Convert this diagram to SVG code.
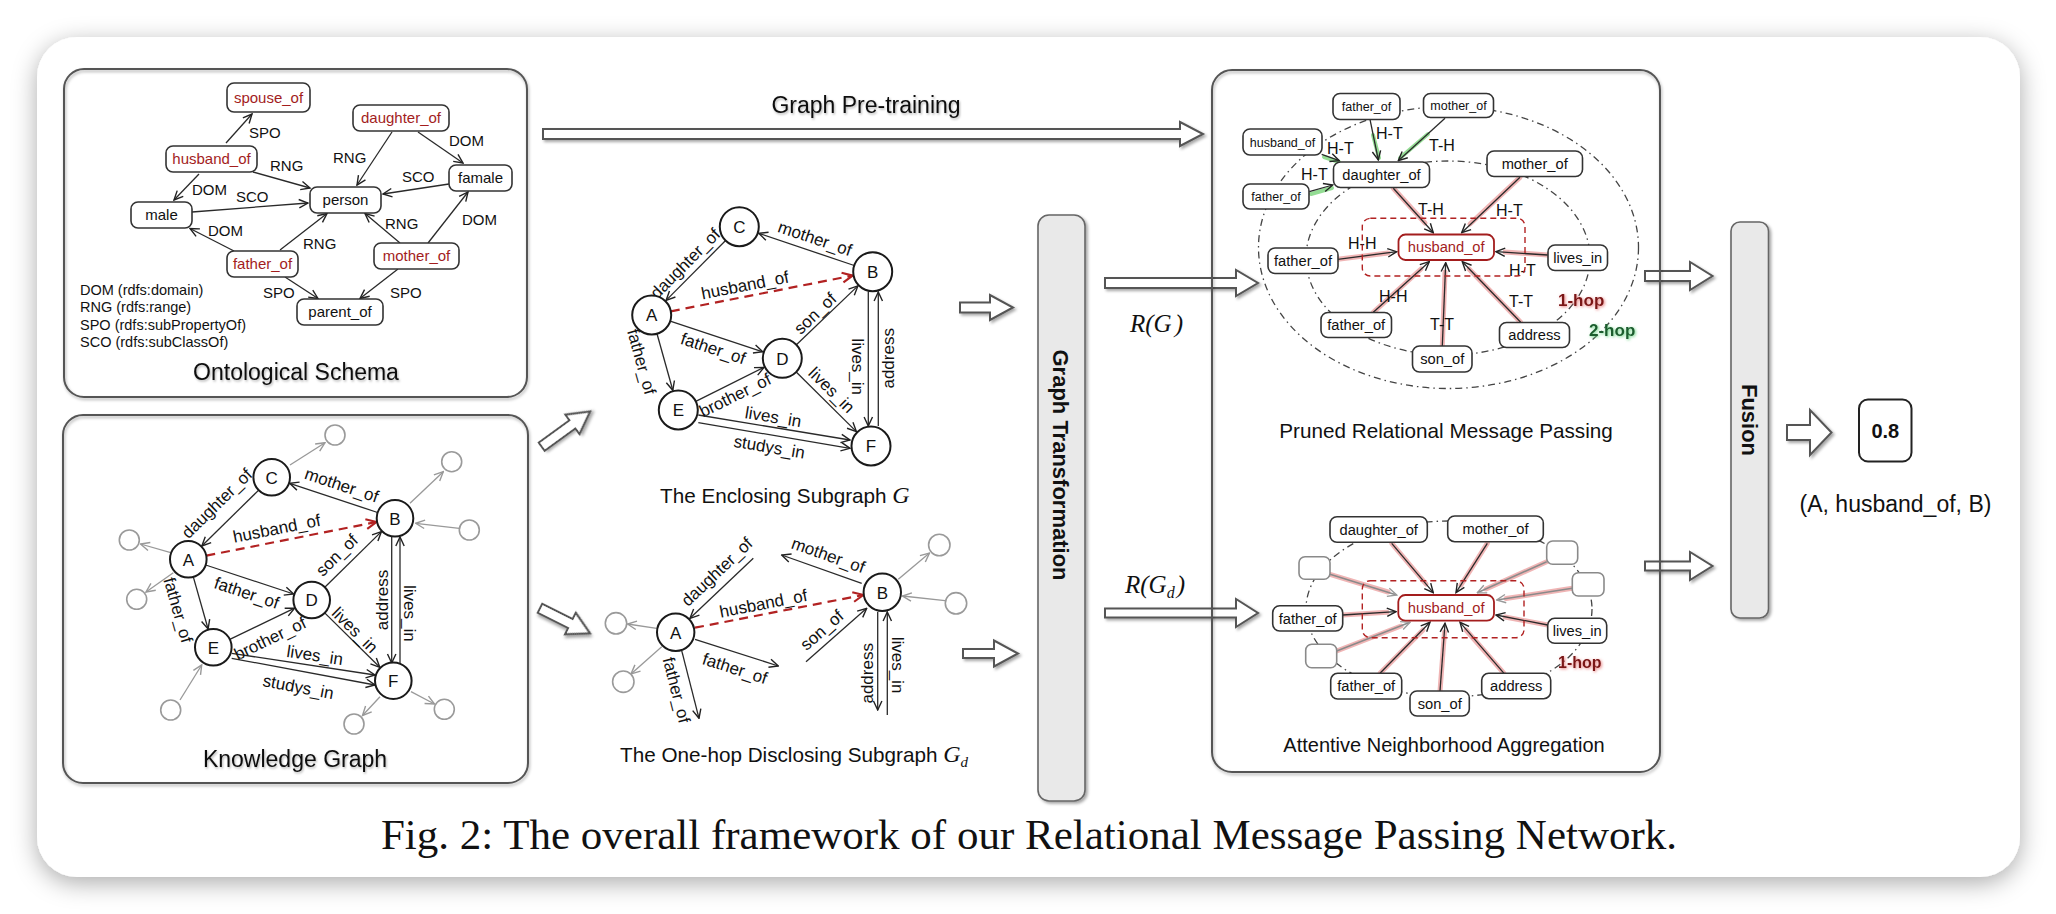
<svg xmlns="http://www.w3.org/2000/svg" width="2056" height="914" viewBox="0 0 2056 914">
<defs>
<style>
.sans{font-family:"Liberation Sans",Arial,"DejaVu Sans",sans-serif}
.serif{font-family:"Liberation Serif","Times New Roman",serif}
.box{fill:none;stroke:#555;stroke-width:2;filter:url(#bsh)}
.nd{fill:#fff;stroke:#333;stroke-width:1.6}
.ndr{fill:#fff;stroke:#a31d1d;stroke-width:1.8}
.nde{fill:#fff;stroke:#8a8a8a;stroke-width:1.6}
.circ{fill:#fff;stroke:#1a1a1a;stroke-width:2}
.gc{fill:#fff;stroke:#9a9a9a;stroke-width:1.6}
.e{fill:none;stroke:#2a2a2a;stroke-width:1.3;marker-end:url(#ah)}
.eg{fill:none;stroke:#999;stroke-width:1.3;marker-end:url(#ahg)}
.eq{fill:none;stroke:#8a8a8a;stroke-width:1.5;marker-end:url(#ahg)}
.er{fill:none;stroke:#b22222;stroke-width:2.2;stroke-dasharray:9 6;marker-end:url(#ahr)}
.gr{fill:none;stroke:#f0b5b5;stroke-width:5;stroke-linecap:round}
.gg{fill:none;stroke:#93dc93;stroke-width:4;stroke-linecap:round}
.ring{fill:none;stroke:#444;stroke-width:1.3;stroke-dasharray:7 4 1.5 4}
.rdash{fill:none;stroke:#b22222;stroke-width:1.4;stroke-dasharray:6 4}
.blk{fill:#fff;stroke:#555;stroke-width:2;filter:url(#sh)}
.bar{fill:#e9e9e9;stroke:#666;stroke-width:1.6;filter:url(#sh)}
.tx{fill:#111}
.red{fill:#a31d1d}
.lb{font-size:17px;fill:#111}
.ol{font-size:15px;fill:#111}
.hl{font-size:16px;fill:#111}
</style>
<marker id="ah" viewBox="0 0 12 12" refX="11" refY="6" markerWidth="12" markerHeight="12" orient="auto" markerUnits="userSpaceOnUse"><path d="M2,1.8 L11,6 L2,10.2" fill="none" stroke="#222" stroke-width="1.4"/></marker>
<marker id="ahg" viewBox="0 0 12 12" refX="11" refY="6" markerWidth="12" markerHeight="12" orient="auto" markerUnits="userSpaceOnUse"><path d="M2,1.8 L11,6 L2,10.2" fill="none" stroke="#999" stroke-width="1.4"/></marker>
<marker id="ahr" viewBox="0 0 12 12" refX="11" refY="6" markerWidth="13" markerHeight="13" orient="auto" markerUnits="userSpaceOnUse"><path d="M1.5,1.5 L11,6 L1.5,10.5" fill="none" stroke="#b22222" stroke-width="2"/></marker>
<filter id="psh" x="-5%" y="-10%" width="110%" height="125%"><feDropShadow dx="0" dy="6" stdDeviation="12" flood-color="#000" flood-opacity="0.33"/></filter>
<filter id="bsh" x="-5%" y="-5%" width="110%" height="110%"><feDropShadow dx="1" dy="2" stdDeviation="1.5" flood-color="#000" flood-opacity="0.3"/></filter>
<filter id="sh" x="-30%" y="-60%" width="160%" height="220%"><feDropShadow dx="2" dy="2" stdDeviation="1.5" flood-color="#000" flood-opacity="0.35"/></filter>
<filter id="tsh" x="-10%" y="-30%" width="120%" height="160%"><feDropShadow dx="1" dy="1.5" stdDeviation="1" flood-color="#000" flood-opacity="0.3"/></filter>
<filter id="glr" x="-20%" y="-50%" width="140%" height="200%"><feGaussianBlur in="SourceAlpha" stdDeviation="1.6" result="b"/><feOffset in="b" dx="1" dy="1" result="o"/><feFlood flood-color="#e56b6b" flood-opacity="0.9"/><feComposite in2="o" operator="in" result="g"/><feMerge><feMergeNode in="g"/><feMergeNode in="SourceGraphic"/></feMerge></filter>
<filter id="glg" x="-20%" y="-50%" width="140%" height="200%"><feGaussianBlur in="SourceAlpha" stdDeviation="1.6" result="b"/><feOffset in="b" dx="1" dy="1" result="o"/><feFlood flood-color="#5fd07a" flood-opacity="0.9"/><feComposite in2="o" operator="in" result="g"/><feMerge><feMergeNode in="g"/><feMergeNode in="SourceGraphic"/></feMerge></filter>
</defs>

<rect x="0" y="0" width="2056" height="914" fill="#fff"/>
<rect id="panel" x="37" y="37" width="1983" height="840" rx="40" fill="#fff" filter="url(#psh)"/>

<!-- section boxes -->
<g id="boxes">
<rect x="64" y="69" width="463" height="328" rx="20" class="box"/>
<rect x="63" y="415" width="465" height="368" rx="20" class="box"/>
</g>

<!-- rings -->
<g id="rings">
<ellipse cx="1448.5" cy="247.5" rx="190" ry="141" class="ring"/>
<ellipse cx="1448" cy="258" rx="142" ry="97" class="ring"/>
<ellipse cx="1449" cy="609" rx="143" ry="88" class="ring"/>
</g>

<g id="connectors">
<!-- ontology -->
<line class="e" x1="226" y1="143" x2="252" y2="114"/>
<line class="e" x1="392" y1="132" x2="357" y2="185"/>
<line class="e" x1="418" y1="132" x2="463" y2="163"/>
<line class="e" x1="253" y1="172" x2="310" y2="188"/>
<line class="e" x1="199" y1="174" x2="174" y2="200"/>
<line class="e" x1="192" y1="212" x2="308" y2="203"/>
<line class="e" x1="449" y1="184" x2="383" y2="194"/>
<line class="e" x1="234" y1="251" x2="190" y2="228.5"/>
<line class="e" x1="280" y1="250" x2="327" y2="213.5"/>
<line class="e" x1="400" y1="243" x2="365" y2="213.5"/>
<line class="e" x1="428" y1="243" x2="468" y2="192"/>
<line class="e" x1="285" y1="277" x2="318" y2="298.5"/>
<line class="e" x1="398" y1="269" x2="360" y2="298.5"/>
<!-- knowledge graph -->
<line class="e" x1="258.7" y1="490.1" x2="201.8" y2="546"/>
<line class="e" x1="377.6" y1="512.5" x2="289.7" y2="483.3"/>
<line class="er" x1="206.3" y1="555.7" x2="376.4" y2="522"/>
<line class="e" x1="324.8" y1="587.2" x2="381.4" y2="531.6"/>
<line class="e" x1="205.7" y1="565" x2="293.6" y2="594"/>
<line class="e" x1="193.3" y1="576.9" x2="208.1" y2="629"/>
<line class="e" x1="229.8" y1="639.4" x2="294.6" y2="608.2"/>
<line class="e" x1="324.7" y1="612.9" x2="379.8" y2="667.3"/>
<line class="e" x1="231.7" y1="653.3" x2="375" y2="675"/>
<line class="e" x1="231.7" y1="658.3" x2="375" y2="685"/>
<line class="e" x1="391.7" y1="537" x2="391.7" y2="663"/>
<line class="e" x1="400" y1="663" x2="400" y2="537"/>
<line class="eg" x1="290" y1="465" x2="325" y2="442.7"/>
<line class="eg" x1="410" y1="503.3" x2="443.3" y2="471.7"/>
<line class="eg" x1="459.3" y1="528.3" x2="415.7" y2="523.3"/>
<line class="eg" x1="170.7" y1="552.7" x2="140.5" y2="544"/>
<line class="eg" x1="173.3" y1="572.7" x2="146" y2="592"/>
<line class="eg" x1="180" y1="700" x2="201.7" y2="665"/>
<line class="eg" x1="380" y1="696.7" x2="362.5" y2="715.5"/>
<line class="eg" x1="411" y1="691.7" x2="434.5" y2="704"/>
<!-- enclosing subgraph -->
<line class="e" x1="725.6" y1="240.5" x2="666.1" y2="300.4"/>
<line class="e" x1="854.2" y1="265.5" x2="758.7" y2="233.3"/>
<line class="er" x1="670.8" y1="311.3" x2="852.6" y2="275.6"/>
<line class="e" x1="796.4" y1="344.8" x2="857.9" y2="285.9"/>
<line class="e" x1="670.2" y1="321.1" x2="762.8" y2="351.8"/>
<line class="e" x1="657" y1="333.8" x2="672.8" y2="390.3"/>
<line class="e" x1="695.8" y1="401.3" x2="763.9" y2="367.4"/>
<line class="e" x1="796.2" y1="372" x2="856.4" y2="431.6"/>
<line class="e" x1="698.3" y1="415" x2="850" y2="440"/>
<line class="e" x1="698.3" y1="422.7" x2="850" y2="448.3"/>
<line class="e" x1="868.3" y1="292" x2="868.3" y2="426"/>
<line class="e" x1="878.3" y1="426" x2="878.3" y2="292"/>
<!-- one-hop subgraph -->
<line class="e" x1="753.3" y1="558.3" x2="690" y2="618.3"/>
<line class="e" x1="861.7" y1="583.3" x2="781.7" y2="555"/>
<line class="er" x1="695" y1="627.7" x2="863.3" y2="595"/>
<line class="e" x1="806" y1="661.7" x2="866.7" y2="608.3"/>
<line class="e" x1="695" y1="639.3" x2="778.3" y2="666"/>
<line class="e" x1="681.7" y1="650.7" x2="699" y2="718.3"/>
<line class="e" x1="877.7" y1="612" x2="877.7" y2="710"/>
<line class="e" x1="887.3" y1="715" x2="887.3" y2="612"/>
<line class="eg" x1="656.7" y1="628.3" x2="627.5" y2="624"/>
<line class="eg" x1="661.7" y1="646.7" x2="631" y2="674"/>
<line class="eg" x1="898.3" y1="579.3" x2="929.5" y2="553"/>
<line class="eg" x1="945" y1="600.7" x2="902.5" y2="596"/>
<!-- pruned relational message passing -->
<line class="gg" x1="1373" y1="135" x2="1379" y2="158"/>
<line class="gg" x1="1428" y1="134" x2="1400" y2="158"/>
<line class="gg" x1="1324" y1="157" x2="1339" y2="162"/>
<line class="gg" x1="1311" y1="194" x2="1332" y2="188"/>
<line class="e" x1="1370" y1="119.3" x2="1378.3" y2="160"/>
<line class="e" x1="1445" y1="118.3" x2="1398.3" y2="160.7"/>
<line class="e" x1="1321.7" y1="154.3" x2="1339.3" y2="160.7"/>
<line class="e" x1="1309.3" y1="191.7" x2="1332.7" y2="185"/>
<line class="gr" x1="1393.3" y1="188.3" x2="1425" y2="223"/>
<line class="gr" x1="1520" y1="177.3" x2="1470" y2="224"/>
<line class="gr" x1="1337.7" y1="259.3" x2="1388" y2="253"/>
<line class="gr" x1="1547.7" y1="255" x2="1505" y2="252"/>
<line class="gr" x1="1373.3" y1="312.3" x2="1421" y2="269"/>
<line class="gr" x1="1442.3" y1="346" x2="1445" y2="272"/>
<line class="gr" x1="1520.7" y1="322.3" x2="1469" y2="269"/>
<line class="e" x1="1393.3" y1="188.3" x2="1433.3" y2="232.7"/>
<line class="e" x1="1520" y1="177.3" x2="1461.7" y2="232.7"/>
<line class="e" x1="1337.7" y1="259.3" x2="1396.7" y2="251.7"/>
<line class="e" x1="1547.7" y1="255" x2="1496" y2="251.7"/>
<line class="e" x1="1373.3" y1="312.3" x2="1429.3" y2="261.7"/>
<line class="e" x1="1442.3" y1="346" x2="1445.7" y2="262.7"/>
<line class="e" x1="1520.7" y1="322.3" x2="1462.3" y2="261.7"/>
<!-- attentive neighborhood aggregation -->
<line class="gr" x1="1391.7" y1="543.3" x2="1426" y2="584"/>
<line class="gr" x1="1487.3" y1="543.3" x2="1461" y2="585"/>
<line class="gr" x1="1330" y1="574.3" x2="1388" y2="592"/>
<line class="gr" x1="1546.7" y1="561.7" x2="1486" y2="589"/>
<line class="gr" x1="1572.3" y1="588.3" x2="1506" y2="598.5"/>
<line class="gr" x1="1342.7" y1="615" x2="1387" y2="612.3"/>
<line class="gr" x1="1547.7" y1="625" x2="1505" y2="617"/>
<line class="gr" x1="1336.7" y1="651" x2="1401" y2="626"/>
<line class="gr" x1="1380" y1="673.3" x2="1423" y2="630"/>
<line class="gr" x1="1440" y1="691" x2="1444.5" y2="632"/>
<line class="gr" x1="1504" y1="673.3" x2="1466" y2="630"/>
<line class="e" x1="1391.7" y1="543.3" x2="1433.3" y2="592.7"/>
<line class="e" x1="1487.3" y1="543.3" x2="1456" y2="592.7"/>
<line class="eq" x1="1330" y1="574.3" x2="1396.7" y2="595"/>
<line class="eq" x1="1546.7" y1="561.7" x2="1477.3" y2="592.7"/>
<line class="eq" x1="1572.3" y1="588.3" x2="1496.7" y2="600"/>
<line class="e" x1="1342.7" y1="615" x2="1396" y2="611.7"/>
<line class="e" x1="1547.7" y1="625" x2="1496" y2="615"/>
<line class="eq" x1="1336.7" y1="651" x2="1410" y2="622.3"/>
<line class="e" x1="1380" y1="673.3" x2="1430" y2="622.3"/>
<line class="e" x1="1440" y1="691" x2="1445" y2="623.3"/>
<line class="e" x1="1504" y1="673.3" x2="1460" y2="622.3"/>
</g>

<g id="edge-labels" class="sans">
<!-- ontology -->
<text class="ol" x="249" y="138">SPO</text>
<text class="ol" x="333" y="163">RNG</text>
<text class="ol" x="449" y="146">DOM</text>
<text class="ol" x="270" y="171">RNG</text>
<text class="ol" x="192" y="195">DOM</text>
<text class="ol" x="236" y="202">SCO</text>
<text class="ol" x="402" y="182">SCO</text>
<text class="ol" x="208" y="236">DOM</text>
<text class="ol" x="303" y="249">RNG</text>
<text class="ol" x="385" y="229">RNG</text>
<text class="ol" x="462" y="225">DOM</text>
<text class="ol" x="263" y="298">SPO</text>
<text class="ol" x="390" y="298">SPO</text>
<!-- knowledge graph -->
<text class="lb" text-anchor="middle" dy="6" transform="translate(216.7,503.3) rotate(-44.5)">daughter_of</text>
<text class="lb" text-anchor="middle" dy="6" transform="translate(341.7,485) rotate(18.4)">mother_of</text>
<text class="lb" text-anchor="middle" dy="6" transform="translate(276.7,528.3) rotate(-11.2)">husband_of</text>
<text class="lb" text-anchor="middle" dy="6" transform="translate(336.7,555) rotate(-44.4)">son_of</text>
<text class="lb" text-anchor="middle" dy="6" transform="translate(246.7,592.7) rotate(18.3)">father_of</text>
<text class="lb" text-anchor="middle" dy="6" transform="translate(178.3,610) rotate(74.1)">father_of</text>
<text class="lb" text-anchor="middle" dy="6" transform="translate(270,638.3) rotate(-25.7)">brother_of</text>
<text class="lb" text-anchor="middle" dy="6" transform="translate(355,630) rotate(44.7)">lives_in</text>
<text class="lb" text-anchor="middle" dy="6" transform="translate(315,655) rotate(8.6)">lives_in</text>
<text class="lb" text-anchor="middle" dy="6" transform="translate(298.3,686.7) rotate(10.6)">studys_in</text>
<text class="lb" text-anchor="middle" dy="6" transform="translate(381.7,600) rotate(-90)">address</text>
<text class="lb" text-anchor="middle" dy="6" transform="translate(410,613.3) rotate(90)">lives_in</text>
<!-- enclosing -->
<text class="lb" text-anchor="middle" dy="6" transform="translate(685,263.3) rotate(-45.2)">daughter_of</text>
<text class="lb" text-anchor="middle" dy="6" transform="translate(815,238.3) rotate(18.6)">mother_of</text>
<text class="lb" text-anchor="middle" dy="6" transform="translate(745,285) rotate(-11.1)">husband_of</text>
<text class="lb" text-anchor="middle" dy="6" transform="translate(815,313.3) rotate(-43.8)">son_of</text>
<text class="lb" text-anchor="middle" dy="6" transform="translate(713.3,348.3) rotate(18.3)">father_of</text>
<text class="lb" text-anchor="middle" dy="6" transform="translate(641.7,361.7) rotate(74.4)">father_of</text>
<text class="lb" text-anchor="middle" dy="6" transform="translate(735,395) rotate(-26.4)">brother_of</text>
<text class="lb" text-anchor="middle" dy="6" transform="translate(831.7,390) rotate(44.7)">lives_in</text>
<text class="lb" text-anchor="middle" dy="6" transform="translate(773.3,416.7) rotate(9.4)">lives_in</text>
<text class="lb" text-anchor="middle" dy="6" transform="translate(769.3,446.7) rotate(9.6)">studys_in</text>
<text class="lb" text-anchor="middle" dy="6" transform="translate(858.3,366.7) rotate(90)">lives_in</text>
<text class="lb" text-anchor="middle" dy="6" transform="translate(888.3,358.3) rotate(-90)">address</text>
<!-- one-hop -->
<text class="lb" text-anchor="middle" dy="6" transform="translate(716.7,571.7) rotate(-43.5)">daughter_of</text>
<text class="lb" text-anchor="middle" dy="6" transform="translate(828.3,555) rotate(19.5)">mother_of</text>
<text class="lb" text-anchor="middle" dy="6" transform="translate(763.3,603.3) rotate(-11)">husband_of</text>
<text class="lb" text-anchor="middle" dy="6" transform="translate(821.7,630) rotate(-41.3)">son_of</text>
<text class="lb" text-anchor="middle" dy="6" transform="translate(735,668.3) rotate(17.8)">father_of</text>
<text class="lb" text-anchor="middle" dy="6" transform="translate(676.7,690) rotate(75.6)">father_of</text>
<text class="lb" text-anchor="middle" dy="6" transform="translate(867.3,673.3) rotate(-90)">address</text>
<text class="lb" text-anchor="middle" dy="6" transform="translate(898.3,665) rotate(90)">lives_in</text>
<!-- pruned -->
<text class="hl" x="1376" y="139">H-T</text>
<text class="hl" x="1429" y="151">T-H</text>
<text class="hl" x="1327" y="154">H-T</text>
<text class="hl" x="1301" y="180">H-T</text>
<text class="hl" x="1418" y="215">T-H</text>
<text class="hl" x="1496" y="216">H-T</text>
<text class="hl" x="1348" y="249">H-H</text>
<text class="hl" x="1509" y="276">H-T</text>
<text class="hl" x="1379" y="302">H-H</text>
<text class="hl" x="1430" y="330">T-T</text>
<text class="hl" x="1509" y="307">T-T</text>
<text x="1558" y="306" font-size="17" font-weight="bold" fill="#7a1212" filter="url(#glr)">1-hop</text>
<text x="1589" y="336" font-size="17" font-weight="bold" fill="#1a5c2e" filter="url(#glg)">2-hop</text>
<text x="1558" y="668" font-size="16" font-weight="bold" fill="#7a1212" filter="url(#glr)">1-hop</text>
</g>

<!-- ontology nodes -->
<g class="sans" font-size="15" text-anchor="middle">
<g id="o-spouse_of"><rect class="nd" x="227" y="83" width="83" height="29" rx="7"/><text class="red" x="268.5" y="102.5">spouse_of</text></g>
<g id="o-daughter_of"><rect class="nd" x="353" y="105" width="96" height="26" rx="7"/><text class="red" x="401" y="123.3">daughter_of</text></g>
<g id="o-husband_of"><rect class="nd" x="166" y="146" width="91" height="26" rx="7"/><text class="red" x="211.5" y="164.3">husband_of</text></g>
<g id="o-famale"><rect class="nd" x="449" y="165" width="63" height="26" rx="7"/><text class="tx" x="480.5" y="183.3">famale</text></g>
<g id="o-person"><rect class="nd" x="310" y="187" width="71" height="26" rx="7"/><text class="tx" x="345.5" y="205.3">person</text></g>
<g id="o-male"><rect class="nd" x="131" y="202" width="61" height="26" rx="7"/><text class="tx" x="161.5" y="220.3">male</text></g>
<g id="o-father_of"><rect class="nd" x="227" y="251" width="71" height="26" rx="7"/><text class="red" x="262.5" y="269.3">father_of</text></g>
<g id="o-mother_of"><rect class="nd" x="374" y="243" width="85" height="26" rx="7"/><text class="red" x="416.5" y="261.3">mother_of</text></g>
<g id="o-parent_of"><rect class="nd" x="297" y="299" width="86" height="26" rx="7"/><text class="tx" x="340" y="317.3">parent_of</text></g>
</g>
<g id="o-legend" class="sans tx" font-size="14.5">
<text x="80" y="294.5">DOM (rdfs:domain)</text>
<text x="80" y="312">RNG (rdfs:range)</text>
<text x="80" y="329.5">SPO (rdfs:subPropertyOf)</text>
<text x="80" y="347">SCO (rdfs:subClassOf)</text>
</g>

<!-- KG nodes -->
<g class="sans tx" font-size="17" text-anchor="middle">
<g id="kg-g1"><circle class="gc" cx="335" cy="435" r="10"/></g>
<g id="kg-g2"><circle class="gc" cx="451.7" cy="461.7" r="10"/></g>
<g id="kg-g3"><circle class="gc" cx="469.3" cy="530" r="10"/></g>
<g id="kg-g4"><circle class="gc" cx="129.3" cy="540" r="10"/></g>
<g id="kg-g5"><circle class="gc" cx="136.7" cy="599.3" r="10"/></g>
<g id="kg-g6"><circle class="gc" cx="170.7" cy="710" r="10"/></g>
<g id="kg-g7"><circle class="gc" cx="354" cy="724" r="10"/></g>
<g id="kg-g8"><circle class="gc" cx="444.3" cy="709.3" r="10"/></g>
<g id="kg-A"><circle class="circ" cx="188.3" cy="559.3" r="18.3"/><text x="188.3" y="565.5">A</text></g>
<g id="kg-B"><circle class="circ" cx="395" cy="518.3" r="18.3"/><text x="395" y="524.5">B</text></g>
<g id="kg-C"><circle class="circ" cx="271.7" cy="477.3" r="18.3"/><text x="271.7" y="483.5">C</text></g>
<g id="kg-D"><circle class="circ" cx="311.7" cy="600" r="18.3"/><text x="311.7" y="606.2">D</text></g>
<g id="kg-E"><circle class="circ" cx="213.3" cy="647.3" r="18.3"/><text x="213.3" y="653.5">E</text></g>
<g id="kg-F"><circle class="circ" cx="393.3" cy="680.7" r="18.3"/><text x="393.3" y="686.9">F</text></g>
</g>

<!-- enclosing subgraph nodes -->
<g class="sans tx" font-size="17" text-anchor="middle">
<g id="en-A"><circle class="circ" cx="651.7" cy="315" r="19.5"/><text x="651.7" y="321.2">A</text></g>
<g id="en-B"><circle class="circ" cx="872.7" cy="271.7" r="19.5"/><text x="872.7" y="277.9">B</text></g>
<g id="en-C"><circle class="circ" cx="739.3" cy="226.7" r="19.5"/><text x="739.3" y="232.9">C</text></g>
<g id="en-D"><circle class="circ" cx="782.3" cy="358.3" r="19.5"/><text x="782.3" y="364.5">D</text></g>
<g id="en-E"><circle class="circ" cx="678.3" cy="410" r="19.5"/><text x="678.3" y="416.2">E</text></g>
<g id="en-F"><circle class="circ" cx="871" cy="446" r="19.5"/><text x="871" y="452.2">F</text></g>
</g>

<!-- one-hop subgraph nodes -->
<g class="sans tx" font-size="17" text-anchor="middle">
<g id="oh-g1"><circle class="gc" cx="616" cy="623.3" r="10.7"/></g>
<g id="oh-g2"><circle class="gc" cx="623.3" cy="681.7" r="10.7"/></g>
<g id="oh-g3"><circle class="gc" cx="939.3" cy="545" r="10.7"/></g>
<g id="oh-g4"><circle class="gc" cx="956" cy="603.3" r="10.7"/></g>
<g id="oh-A"><circle class="circ" cx="675.7" cy="632.3" r="18.7"/><text x="675.7" y="638.5">A</text></g>
<g id="oh-B"><circle class="circ" cx="882.3" cy="592.3" r="18.7"/><text x="882.3" y="598.5">B</text></g>
</g>

<!-- block arrows -->
<g id="block-arrows">
<path class="blk" d="M543,129 L1180,129 L1180,122 L1203,134 L1180,146 L1180,139 L543,139 Z"/>
<path class="blk" transform="translate(541.7,446.7) rotate(-36)" d="M0,-5 L38,-5 L38,-12 L60,0 L38,12 L38,5 L0,5 Z"/>
<path class="blk" transform="translate(540,608.3) rotate(26.6)" d="M0,-5 L34,-5 L34,-12 L56,0 L34,12 L34,5 L0,5 Z"/>
<path class="blk" d="M960,302.5 L990,302.5 L990,295 L1013,307.5 L990,320 L990,312.5 L960,312.5 Z"/>
<path class="blk" d="M963,649 L994,649 L994,640.5 L1018,653.5 L994,666.5 L994,658 L963,658 Z"/>
<path class="blk" d="M1105,278 L1236,278 L1236,270 L1258,283 L1236,296 L1236,288 L1105,288 Z"/>
<path class="blk" d="M1105,608.5 L1236,608.5 L1236,599 L1258,613 L1236,627 L1236,617.5 L1105,617.5 Z"/>
<path class="blk" d="M1645,271 L1690,271 L1690,262 L1712.5,276 L1690,290 L1690,281 L1645,281 Z"/>
<path class="blk" d="M1645,561.5 L1690,561.5 L1690,552 L1712.5,566 L1690,580 L1690,570.5 L1645,570.5 Z"/>
<path class="blk" d="M1787,425 L1810,425 L1810,410 L1831.5,432.5 L1810,455 L1810,440 L1787,440 Z"/>
</g>

<rect id="right-panel" x="1212" y="70" width="448" height="702" rx="20" class="box"/>

<!-- pruned nodes -->
<g class="sans tx" text-anchor="middle">
<g id="p-father_of-top" font-size="12.5"><rect class="nd" x="1333" y="93.5" width="67" height="26" rx="7"/><text x="1366.5" y="111">father_of</text></g>
<g id="p-mother_of-top" font-size="12.5"><rect class="nd" x="1423.5" y="93.5" width="70" height="24" rx="7"/><text x="1458.5" y="110">mother_of</text></g>
<g id="p-husband_of-2hop" font-size="12.5"><rect class="nd" x="1243" y="129" width="79" height="26" rx="7"/><text x="1282.5" y="146.5">husband_of</text></g>
<g id="p-father_of-2hop" font-size="12.5"><rect class="nd" x="1243" y="184" width="66" height="25" rx="7"/><text x="1276" y="201">father_of</text></g>
<g id="p-daughter_of" font-size="14.7"><rect class="nd" x="1333.5" y="162" width="96" height="25.5" rx="7"/><text x="1381.5" y="179.8">daughter_of</text></g>
<g id="p-mother_of" font-size="14.7"><rect class="nd" x="1487" y="151" width="95.5" height="25.5" rx="7"/><text x="1534.7" y="168.8">mother_of</text></g>
<g id="p-father_of-mid" font-size="14.7"><rect class="nd" x="1268" y="248" width="70" height="25.5" rx="7"/><text x="1303" y="265.8">father_of</text></g>
<g id="p-lives_in" font-size="14.7"><rect class="nd" x="1548" y="245" width="59.5" height="25.5" rx="7"/><text x="1577.7" y="262.8">lives_in</text></g>
<g id="p-father_of-low" font-size="14.7"><rect class="nd" x="1321" y="312.5" width="70.5" height="25" rx="7"/><text x="1356.2" y="330.1">father_of</text></g>
<g id="p-son_of" font-size="14.7"><rect class="nd" x="1412.5" y="346" width="59.5" height="26" rx="7"/><text x="1442.2" y="364.1">son_of</text></g>
<g id="p-address" font-size="14.7"><rect class="nd" x="1499.5" y="322.5" width="70" height="25" rx="7"/><text x="1534.5" y="340.1">address</text></g>
<g id="p-husband_of" font-size="14.7"><rect class="rdash" x="1362.3" y="218.3" width="162.7" height="57.7" rx="8"/><rect class="ndr" x="1398.5" y="234.5" width="95.5" height="25.5" rx="7"/><text class="red" x="1446.2" y="252.3">husband_of</text></g>
</g>

<!-- ANA nodes -->
<g class="sans tx" text-anchor="middle" font-size="14.7">
<g id="a-daughter_of"><rect class="nd" x="1330" y="516.7" width="97.3" height="25.6" rx="7"/><text x="1378.7" y="534.6">daughter_of</text></g>
<g id="a-mother_of"><rect class="nd" x="1447.7" y="516" width="95.6" height="25.7" rx="7"/><text x="1495.5" y="533.9">mother_of</text></g>
<g id="a-empty-1"><rect class="nde" x="1299" y="556.7" width="31" height="22.6" rx="6"/></g>
<g id="a-empty-2"><rect class="nde" x="1546.7" y="541" width="31" height="23.3" rx="6"/></g>
<g id="a-empty-3"><rect class="nde" x="1572.3" y="572.7" width="31.7" height="23.3" rx="6"/></g>
<g id="a-empty-4"><rect class="nde" x="1305.7" y="644.3" width="31" height="23.4" rx="6"/></g>
<g id="a-father_of-left"><rect class="nd" x="1272.7" y="605.7" width="70" height="25.3" rx="7"/><text x="1307.7" y="623.5">father_of</text></g>
<g id="a-lives_in"><rect class="nd" x="1547.7" y="618.3" width="59" height="25" rx="7"/><text x="1577.2" y="636">lives_in</text></g>
<g id="a-father_of-low"><rect class="nd" x="1330.7" y="673.3" width="71" height="25.7" rx="7"/><text x="1366.2" y="691.3">father_of</text></g>
<g id="a-son_of"><rect class="nd" x="1410" y="691" width="59.3" height="25" rx="7"/><text x="1439.7" y="708.6">son_of</text></g>
<g id="a-address"><rect class="nd" x="1481.7" y="673.3" width="69" height="25.4" rx="7"/><text x="1516.2" y="691.1">address</text></g>
<g id="a-husband_of"><rect class="rdash" x="1362.3" y="580.7" width="161.7" height="57" rx="8"/><rect class="ndr" x="1398.3" y="595" width="95.7" height="25.7" rx="7"/><text class="red" x="1446.2" y="613">husband_of</text></g>
</g>

<!-- bars and output -->
<g id="graph-transformation"><rect class="bar" x="1038" y="215" width="47" height="586" rx="11"/><text class="sans tx" font-size="22" font-weight="bold" text-anchor="middle" dy="7.5" transform="translate(1060,465) rotate(90)">Graph Transformation</text></g>
<g id="fusion"><rect class="bar" x="1731" y="222" width="37.5" height="396" rx="9"/><text class="sans tx" font-size="22" font-weight="bold" text-anchor="middle" dy="7.5" transform="translate(1749.5,420) rotate(90)">Fusion</text></g>
<g id="score"><rect x="1859" y="399.5" width="52.5" height="62" rx="9" fill="#fff" stroke="#222" stroke-width="2"/><text class="sans tx" x="1885.3" y="437.5" font-size="20" font-weight="bold" text-anchor="middle">0.8</text></g>

<!-- titles -->
<g id="titles" class="sans tx">
<text x="296" y="380" font-size="23" text-anchor="middle" filter="url(#tsh)">Ontological Schema</text>
<text x="295" y="767" font-size="23" text-anchor="middle" filter="url(#tsh)">Knowledge Graph</text>
<text x="866" y="113" font-size="23" text-anchor="middle" filter="url(#tsh)">Graph Pre-training</text>
<text x="660" y="503" font-size="20.7">The Enclosing Subgraph <tspan class="serif" font-style="italic" font-size="24">G</tspan></text>
<text x="620" y="762" font-size="20.7">The One-hop Disclosing Subgraph <tspan class="serif" font-style="italic" font-size="24">G</tspan><tspan class="serif" font-style="italic" font-size="15" dy="5">d</tspan></text>
<text x="1446" y="438" font-size="20.7" text-anchor="middle">Pruned Relational Message Passing</text>
<text x="1444" y="752" font-size="20" text-anchor="middle">Attentive Neighborhood Aggregation</text>
<text x="1895.5" y="511.5" font-size="23" text-anchor="middle">(A, husband_of, B)</text>
<text class="serif" x="1130" y="332" font-size="25" font-style="italic">R(G<tspan dx="3">)</tspan></text>
<text class="serif" x="1125" y="593" font-size="25" font-style="italic">R(G<tspan font-size="16" dy="5">d</tspan><tspan dy="-5" dx="2">)</tspan></text>
<text class="serif" x="1029" y="849" font-size="43" text-anchor="middle">Fig. 2: The overall framework of our Relational Message Passing Network.</text>
</g>
</svg>
